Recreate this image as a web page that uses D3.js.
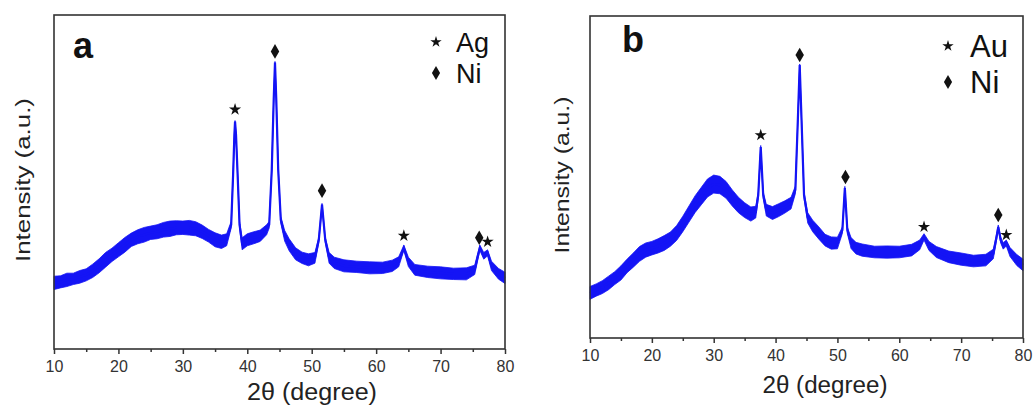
<!DOCTYPE html>
<html><head><meta charset="utf-8">
<script src="https://cdn.jsdelivr.net/npm/d3@7"></script>
<style>
body{margin:0;background:#fff;}
svg{display:block;font-family:"Liberation Sans",Arial,sans-serif;}
</style></head><body>
<svg id="fig" width="1034" height="408"></svg>
<script>
// 2theta ticks
var majorTicks = [10,20,30,40,50,60,70,80];
var minorTicks = [15,25,35,45,55,65,75];

// panel a, Ag/Ni : [2theta, intensity, noise spread]
var scanA = [
  [10,198,20],[11,201,18],[12,207,20],[13,210,17],[14,216,19],[15,222,18],[16,234,20],[17,249,21],
  [18,267,22],[19,282,20],[20,297,21],[21,312,22],[22,327,20],[23,336,21],[24,342,22],[25,348,20],
  [26,351,21],[27,357,22],[28,360,23],[29,363,21],[30,363,20],[31,363,22],[32,360,21],[33,351,20],
  [34,339,19],[35,327,21],[36,321,20],[36.8,327,18],[37.5,372,10],[37.8,522,5],[38.0,642,4],
  [38.1,681,3],[38.25,642,4],[38.5,522,5],[38.8,372,10],[39.2,315,18],[40,327,18],[41,333,18],
  [42,339,17],[43,357,15],[43.4,372,10],[43.8,537,5],[44.1,747,4],[44.3,858,3],[44.5,747,4],
  [44.8,537,5],[45.2,387,10],[45.8,339,16],[46.5,312,18],[47.5,285,18],[48.5,273,17],[49.5,267,18],
  [50.5,273,16],[51.1,327,8],[51.6,432,4],[52.1,327,8],[52.7,273,16],[53.5,258,17],[55,249,18],
  [57,246,17],[59,243,18],[61,243,17],[62.5,249,17],[63.5,261,15],[64.3,303,8],[65,261,14],
  [66,237,16],[68,231,17],[70,228,18],[72,225,17],[74,225,18],[75.3,237,14],[75.8,279,10],
  [76.1,303,8],[76.7,279,10],[77.3,288,9],[77.9,249,14],[79,225,16],[80,213,17]
];
var peaksA = [[38.1,717,"star"],[44.3,891,"diamond"],[51.6,474,"diamond"],
              [64.3,339,"star"],[76.0,333,"diamond"],[77.3,321,"star"]];
var legendA = ["Ag","Ni"];

// panel b, Au/Ni
var scanB = [
  [10,140,20],[11,149,19],[12,158,20],[13,171,21],[14,186,20],[15,202,22],[16,224,21],[17,242,22],
  [18,261,23],[19,273,22],[20,279,21],[21,286,22],[22,295,23],[23,307,22],[24,326,23],[25,354,24],
  [26,385,25],[27,416,26],[28,441,27],[29,466,28],[30,478,28],[31,475,27],[32,460,26],[33,435,25],
  [34,413,24],[35,397,23],[36,385,22],[36.8,391,18],[37.2,444,10],[37.6,593,5],[38.0,444,10],
  [38.5,397,18],[39.5,388,20],[40.5,397,20],[41.5,407,19],[42.5,419,18],[43.2,460,12],[43.6,677,5],
  [43.9,848,3],[44.2,677,5],[44.6,444,10],[45.2,373,16],[46,348,18],[47,326,19],[48,304,18],
  [49,295,19],[50,295,18],[50.8,335,10],[51.2,466,5],[51.6,335,10],[52.2,295,17],[53,279,18],
  [54,273,19],[56,267,18],[58,267,19],[60,267,18],[62,273,18],[63.3,289,15],[64,314,10],
  [64.8,286,14],[66,267,17],[68,252,18],[70,245,19],[72,239,18],[74,242,18],[75.2,261,15],
  [75.7,311,10],[76,345,6],[76.4,304,9],[76.8,286,10],[77.3,295,9],[77.9,267,14],[79,242,17],
  [80,227,18]
];
var peaksB = [[37.6,630,"star"],[43.9,879,"diamond"],[51.3,500,"diamond"],
              [64.0,345,"star"],[76.0,382,"diamond"],[77.3,320,"star"]];
var legendB = ["Au","Ni"];

var svg = d3.select("#fig");
var blue = "#1414f5";

function drawPanel(p) {
  var x = d3.scaleLinear().domain([10, 80]).range([p.left, p.right]);
  var y = d3.scaleLinear().domain([0, 1000]).range([p.bottom, p.top]);
  var g = svg.append("g");

  // noisy band
  var band = d3.area()
    .x(function(d){ return x(d[0]); })
    .y0(function(d){ return y(d[1] - d[2]); })
    .y1(function(d){ return y(d[1] + d[2]); });
  g.append("path").datum(p.scan).attr("d", band)
    .attr("fill", blue).attr("stroke", blue).attr("stroke-width", 0.8);
  var line = d3.line().x(function(d){ return x(d[0]); }).y(function(d){ return y(d[1]); });
  g.append("path").datum(p.scan).attr("d", line)
    .attr("fill", "none").attr("stroke", blue).attr("stroke-width", 2.2);

  // peak markers
  g.selectAll(".pk").data(p.peaks).enter().append("path")
    .attr("transform", function(d){ return "translate(" + x(d[0]) + "," + y(d[1]) + ")"; })
    .attr("d", function(d){
      return d[2] == "star" ? d3.symbol(d3.symbolStar, 46)() : d3.symbol(d3.symbolDiamond, 62)();
    })
    .attr("fill", "#111");

  // frame
  g.append("rect").attr("x", p.left).attr("y", p.top)
    .attr("width", p.right - p.left).attr("height", p.bottom - p.top)
    .attr("fill", "none").attr("stroke", "#333").attr("stroke-width", 1.6);

  var ax = g.append("g").attr("transform", "translate(0," + p.bottom + ")")
    .call(d3.axisBottom(x).tickValues(majorTicks).tickSize(5).tickPadding(7).tickFormat(d3.format("d")));
  ax.select(".domain").remove();
  ax.attr("font-size", 16).attr("font-family", "Liberation Sans, Arial, sans-serif");
  ax.selectAll("line").attr("stroke", "#333").attr("stroke-width", 1.5);
  ax.selectAll("text").style("font-size", "16px").attr("fill", "#333");
  var mx = g.append("g").attr("transform", "translate(0," + p.bottom + ")")
    .call(d3.axisBottom(x).tickValues(minorTicks).tickSize(3).tickFormat(""));
  mx.select(".domain").remove();
  mx.selectAll("line").attr("stroke", "#333").attr("stroke-width", 1.5);

  // titles
  g.append("text").attr("x", p.xt[0]).attr("y", p.xt[1])
    .attr("text-anchor", "middle").attr("font-size", 23).attr("fill", "#222")
    .attr("textLength", p.xt[2]).attr("lengthAdjust", "spacingAndGlyphs")
    .text("2\u03b8 (degree)");
  g.append("text").attr("transform", "translate(" + p.yt[0] + "," + p.yt[1] + ") rotate(-90)")
    .attr("text-anchor", "middle").attr("font-size", 21).attr("fill", "#222")
    .attr("textLength", p.yt[2]).attr("lengthAdjust", "spacingAndGlyphs")
    .text("Intensity (a.u.)");

  // panel letter
  g.append("text").attr("x", p.lab[0]).attr("y", p.lab[1])
    .attr("font-size", 36).attr("font-weight", "bold").attr("fill", "#111").text(p.label);

  // legend
  var lg = g.append("g");
  p.legend.forEach(function(name, i){
    var ly = p.leg[1] + i * p.leg[3];
    lg.append("path").attr("transform", "translate(" + p.leg[0] + "," + ly + ")")
      .attr("d", i == 0 ? d3.symbol(d3.symbolStar, 40)() : d3.symbol(d3.symbolDiamond, 58)())
      .attr("fill", "#111");
    lg.append("text").attr("x", p.leg[0] + p.leg[2]).attr("y", ly).attr("dy", "0.36em")
      .attr("font-size", p.leg[4]).attr("fill", "#111").text(name);
  });
}

drawPanel({scan: scanA, peaks: peaksA, legend: legendA, label: "a",
  left: 54, right: 505, top: 15, bottom: 349,
  xt: [312, 400, 130], yt: [30, 180, 164], lab: [73, 58], leg: [436, 42, 20, 31, 27]});
drawPanel({scan: scanB, peaks: peaksB, legend: legendB, label: "b",
  left: 590, right: 1023, top: 16, bottom: 338,
  xt: [825, 393, 125], yt: [569, 175, 157], lab: [622, 52], leg: [948, 46, 22, 36, 31]});
</script>
</body></html>
